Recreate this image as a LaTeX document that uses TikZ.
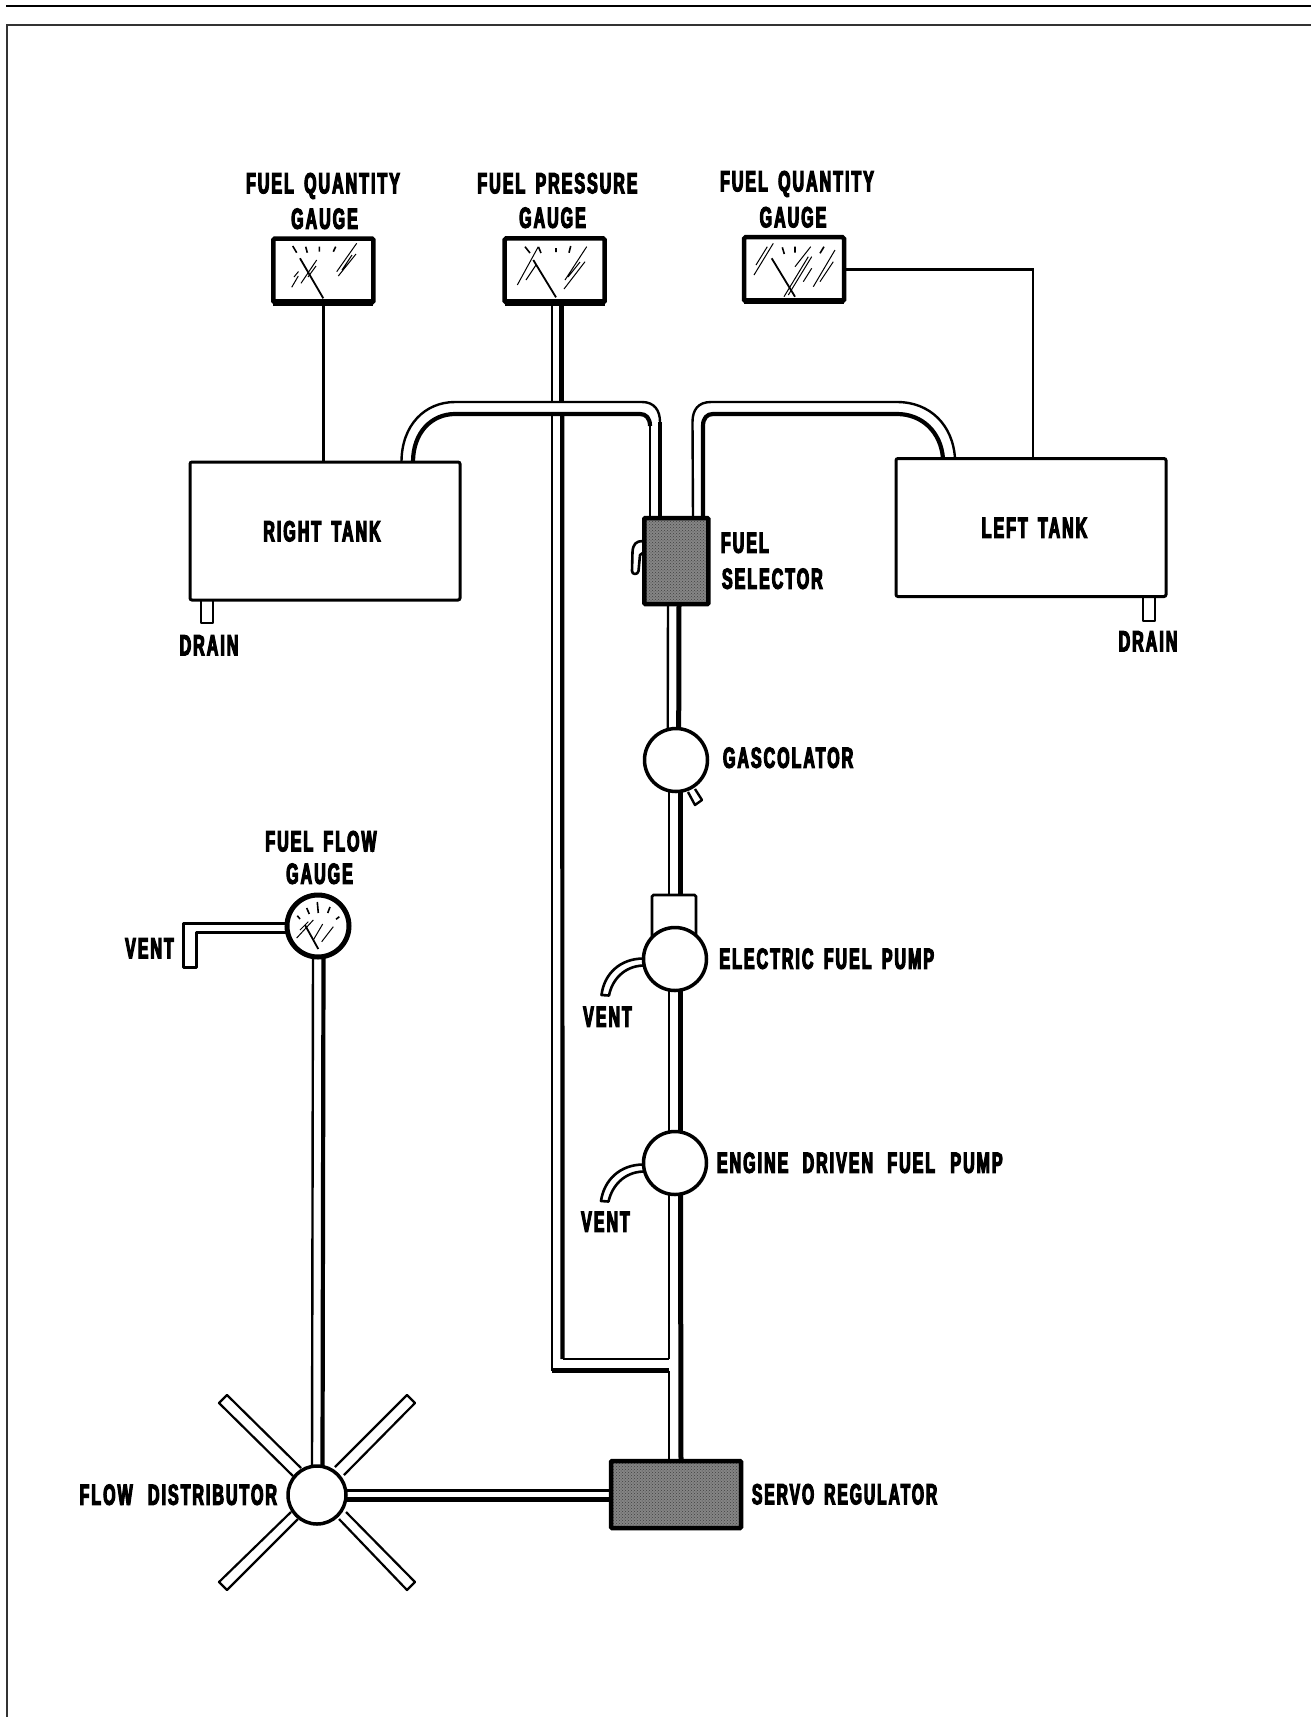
\documentclass[tikz,border=0pt]{standalone}
\usepackage{fontspec}
\usepackage{graphicx}
\usetikzlibrary{patterns,backgrounds}
\newfontfamily\lblfont[FakeStretch=0.55,LetterSpace=7,WordSpace=1.6,FakeBold=4]{Liberation Sans Bold}
\tikzset{
  lbl/.style={font=\lblfont\fontsize{29pt}{29pt}\selectfont,inner sep=0pt,outer sep=0pt,text height=20.5pt,text depth=0pt,anchor=center},
  tank/.style={draw,line width=3pt,fill=white,rounded corners=2pt,inner sep=0pt,outer sep=0pt,minimum width=270pt,minimum height=138pt},
  gaugebox/.style={draw,line width=4.5pt,fill=white,rounded corners=1.5pt,inner sep=0pt,outer sep=0pt,minimum width=100pt,minimum height=64pt},
  ball/.style={circle,draw,line width=3.5pt,fill=white,inner sep=0pt,outer sep=0pt,minimum size=63pt},
  dark/.style={draw,line width=4.5pt,rounded corners=1pt,inner sep=0pt,outer sep=0pt,preaction={fill=black!48},pattern=crosshatch dots,pattern color=black!75},
  thinl/.style={line width=2.4pt,line join=round},
  midl/.style={line width=4.2pt,line join=round},
  thickl/.style={line width=5pt,line join=round},
  wire/.style={line width=2.6pt},
  needle/.style={line width=1.8pt},
  glare/.style={line width=1pt},
  tick/.style={line width=1.6pt},
  heavybase/.style={line width=6.5pt},
}
\newcommand{\tube}[4]{%
  \draw[thinl] ([xshift=#3pt]#1) -- ([xshift=#3pt]#2);
  \draw[thickl] ([xshift=#4pt]#1) -- ([xshift=#4pt]#2);}
\begin{document}
\begin{tikzpicture}[x=1pt,y=-1pt]
\useasboundingbox (0,0) rectangle (1311,1717);
% page frame
\coordinate (ruleL) at (6,5.7);
\coordinate (ruleR) at (1311,5.7);
\coordinate (frameB) at (7,1717);
\coordinate (frameC) at (7,24.8);
\coordinate (frameR) at (1311,24.8);
\draw[line width=2.2pt] (ruleL) -- (ruleR);
\draw[line width=1.6pt,black!80] (frameB) -- (frameC) -- (frameR);
% gauges
\node[gaugebox] (gq1) at (323.4,270.5) {};
\node[gaugebox] (gp) at (554.7,270.4) {};
\node[gaugebox] (gq2) at (794,269.2) {};
\draw[heavybase] (gq1.south west) -- (gq1.south east);
\draw[heavybase] (gp.south west) -- (gp.south east);
\draw[heavybase] (gq2.south west) -- (gq2.south east);
\node[circle,draw,line width=5pt,fill=white,inner sep=0pt,outer sep=0pt,minimum size=62pt] (gf) at (318,926) {};
% tanks
\node[tank] (rt) at (325,531) {};
\node[tank] (lt) at (1031,527.5) {};
% components
\node[dark,minimum width=64pt,minimum height=86pt] (sel) at (676.3,561) {};
\node[ball] (gas) at (676,760) {};
\node[draw,line width=2.6pt,fill=white,rounded corners=1.5pt,inner sep=0pt,outer sep=0pt,minimum width=44pt,minimum height=50pt] (box) at (674,920) {};
\node[ball] (ep) at (675,959) {};
\node[ball] (dp) at (675,1163) {};
\node[dark,minimum width=130pt,minimum height=67pt] (servo) at (676,1494.5) {};
\node[circle,draw,line width=3.5pt,fill=white,inner sep=0pt,outer sep=0pt,minimum size=58pt] (dist) at (317,1495) {};
% connector ends
\coordinate (ventEnd) at (189.5,967);
\coordinate (crossA) at (554.7,402);
\coordinate (crossB) at (554.7,414);
\begin{scope}[on background layer]
% wires
\draw[wire] (gq1.south) -- (gq1.south |- rt.north);
\draw[wire] (gq2.east) -- (1033,269.2) -- (1033,458.5);
% fuel lines from the tanks to the selector
\draw[thinl,fill=white] ([xshift=76.5pt]rt.north) .. controls (401.5,425) and (425,402) .. (455,402) -- (642,402) .. controls (654,402) and (660,410) .. (660,422) -- ([xshift=-16.3pt]sel.north);
\draw[thinl] ([xshift=-26.3pt]sel.north) -- (650,426);
\draw[midl] (650,426) .. controls (650,418) and (646,414) .. (640,414) -- (455,414) .. controls (432,414) and (413,432) .. ([xshift=88pt]rt.north);
\draw[midl] ([xshift=-16.3pt]sel.north) -- (660,422);
\draw[thinl] ([xshift=16.7pt]sel.north) -- (692.5,422) .. controls (692.5,410) and (698,402) .. (711,402) -- (897,402) .. controls (930,402) and (953,425) .. ([xshift=-76pt]lt.north);
\draw[midl] ([xshift=26.7pt]sel.north) -- (703,426) .. controls (703,418) and (707,414) .. (713,414) -- (897,414) .. controls (922,414) and (941,432) .. ([xshift=-88pt]lt.north);
% pressure line
\draw[thinl] ([xshift=-3pt]gp.south) -- ([xshift=-3pt]crossA);
\draw[thickl] ([xshift=7pt]gp.south) -- ([xshift=7pt]crossA);
\draw[thinl] ([xshift=-2.5pt]crossB) -- (552.2,1370.5);
\draw[midl] (552.2,1370.5) -- (669,1370.5);
\draw[thinl] (669,1370.5) -- ([xshift=-7pt]servo.north);
\draw[midl] ([xshift=7.5pt]crossB) -- (562.5,1359);
\draw[thinl] (562.5,1359) -- (669,1359);
\draw[thinl] (669,1359) -- ([xshift=-6pt]dp.south);
% main line
\tube{sel.south}{gas.north}{-8.3}{2.7}
\draw[thinl] ([xshift=-7pt]gas.south) -- ([xshift=-5pt]box.north);
\draw[thickl] ([xshift=4.5pt]gas.south) -- ([xshift=6.5pt]box.north);
\tube{ep.south}{dp.north}{-6}{5}
\draw[thickl] ([xshift=5.5pt]dp.south) -- ([xshift=5pt]servo.north);
% flow gauge and distributor lines
\draw[thinl] ([xshift=-5pt]gf.south) -- ([xshift=-5pt]dist.north);
\draw[midl] ([xshift=5.5pt]gf.south) -- ([xshift=5.5pt]dist.north);
\draw[thinl] (dist.east |- 0,1490.5) -- (servo.west |- 0,1490.5);
\draw[thickl] (dist.east |- 0,1499) -- (servo.west |- 0,1499);
\draw[line width=3pt,line join=round,fill=white] (gf.west |- 0,923) -- (183,923) -- (183,967) -- (ventEnd) -- (196,967) -- (196,932) -- (gf.west |- 0,932);
% distributor arms
\draw[line width=2.2pt,line join=round,fill=white] (293,1476) -- (219,1403) -- (227,1395) -- (301,1468);
\draw[line width=2.2pt,line join=round,fill=white] (335,1467) -- (407,1395) -- (415,1403) -- (344,1475);
\draw[line width=2.2pt,line join=round,fill=white] (291,1512) -- (219,1582) -- (227,1590) -- (298,1519);
\draw[line width=2.2pt,line join=round,fill=white] (339,1519) -- (407,1590) -- (415,1582) -- (346,1512);
% drains
\draw[line width=2.4pt,line join=round,fill=white] (201,600) -- (201,623) -- (213,623) -- (213,600);
\draw[line width=2.4pt,line join=round,fill=white] (1143,597) -- (1143,621) -- (1155,621) -- (1155,597);
% gascolator drain, selector handle, pump vents
\draw[line width=2.4pt,line join=round,fill=white] (688,792) -- (695,805) -- (702,800) -- (695,789);
\draw[line width=2.6pt,line join=round,fill=white] (643,541) .. controls (636,541) and (633,544) .. (632.5,552) -- (632,571) .. controls (632,575) and (638,575) .. (638.5,571) -- (640,555) -- (644,552);
\draw[line width=2.6pt,line join=round,fill=white] (ep.west |- 0,958.5) .. controls (620,958.5) and (604,974) .. (601.5,995) -- (609,995.5) .. controls (612,980) and (624,966) .. (ep.west |- 0,965.5);
\draw[line width=2.6pt,line join=round,fill=white] (dp.west |- 0,1164.5) .. controls (620,1164.5) and (604,1180) .. (601,1201) -- (608.5,1201.5) .. controls (612,1186) and (624,1172) .. (dp.west |- 0,1171.5);
\end{scope}
% gauge faces
\draw[needle] (323.3,298.3) -- (300,258.3);
\draw[tick] (292.7,246) -- (296.7,252.7) (305.7,246.7) -- (307.3,252.7) (319.3,246.7) -- (319.3,251.7) (333.3,251.7) -- (335.7,246.7);
\draw[glare] (336.7,271.7) -- (356.7,243.3) (338.3,276) -- (356,254) (342,270) -- (352,255) (301,283.3) -- (316.7,260) (308,277) -- (316,266) (291.7,287.3) -- (298.3,276) (294,277) -- (298.5,271.5);
\draw[needle] (556,297.3) -- (533.3,260);
\draw[tick] (525,246.7) -- (530,253) (538.5,247) -- (541,253) (556,248) -- (556,252) (570.7,246) -- (569,252.7);
\draw[glare] (517.3,285) -- (538.3,246.7) (526,280) -- (536,265) (565,280) -- (586.7,246.7) (564,289) -- (585,261.7) (568,277) -- (580,262);
\draw[needle] (795,296.7) -- (771.7,258.3);
\draw[glare] (784,296.7) -- (808.3,256.7) (788.3,295) -- (811.7,256.7) (754,275) -- (773.3,243.3) (756,265) -- (767.3,246.7) (813.3,286.7) -- (835,250) (820,281.7) -- (833.3,261.7) (803.3,281.7) -- (811.7,268.3) (795,266.7) -- (810.7,246.7);
\draw[tick] (782.3,247.3) -- (784.3,254) (795,246.7) -- (795,252.7) (824,246.7) -- (820,253.3);
\draw[needle] (318.3,949) -- (305,925);
\draw[tick] (297.3,915.7) -- (300,919) (306.7,908) -- (309.3,914) (317.3,902) -- (318.3,913) (330,907) -- (327.7,913) (339.3,916.7) -- (336,919.3);
\draw[glare] (296.7,938) -- (313.3,920) (313.3,940) -- (322.7,924) (321.7,941.7) -- (333.3,926.7) (300,930) -- (308.3,921.7);
% labels
\node[lbl] (t1) at (323,183) {FUEL QUANTITY};
\node[lbl] (t2) at (324.5,218.5) {GAUGE};
\node[lbl] (t3) at (557.5,183) {FUEL PRESSURE};
\node[lbl] (t4) at (552.5,217.5) {GAUGE};
\node[lbl] (t5) at (797,181) {FUEL QUANTITY};
\node[lbl] (t6) at (793,217) {GAUGE};
\node[lbl] (t7) at (322,531) {RIGHT TANK};
\node[lbl] (t8) at (1034.5,527.5) {LEFT TANK};
\node[lbl] (t9) at (209,645) {DRAIN};
\node[lbl] (t10) at (1148,641) {DRAIN};
\node[lbl,anchor=west] (t11) at (721,542.5) {FUEL};
\node[lbl,anchor=west] (t12) at (722,578.5) {SELECTOR};
\node[lbl,anchor=west] (t13) at (723,757.5) {GASCOLATOR};
\node[lbl] (t14) at (321,841) {FUEL FLOW};
\node[lbl] (t15) at (319.5,873.5) {GAUGE};
\node[lbl] (t16) at (149.5,948) {VENT};
\node[lbl,anchor=west] (t17) at (719.5,958.5) {ELECTRIC FUEL PUMP};
\node[lbl] (t18) at (607.5,1016.5) {VENT};
\node[lbl,anchor=west] (t19) at (717,1162.5) {ENGINE\kern4pt{} DRIVEN\kern4pt{} FUEL\kern5pt{} PUMP};
\node[lbl] (t20) at (605.5,1221.5) {VENT};
\node[lbl,anchor=east] (t21) at (277,1494.5) {FLOW\kern5pt{} DISTRIBUTOR};
\node[lbl,anchor=west] (t22) at (752,1494) {\scalebox{0.976}[1]{SERVO REGULATOR}};
\end{tikzpicture}
\end{document}
